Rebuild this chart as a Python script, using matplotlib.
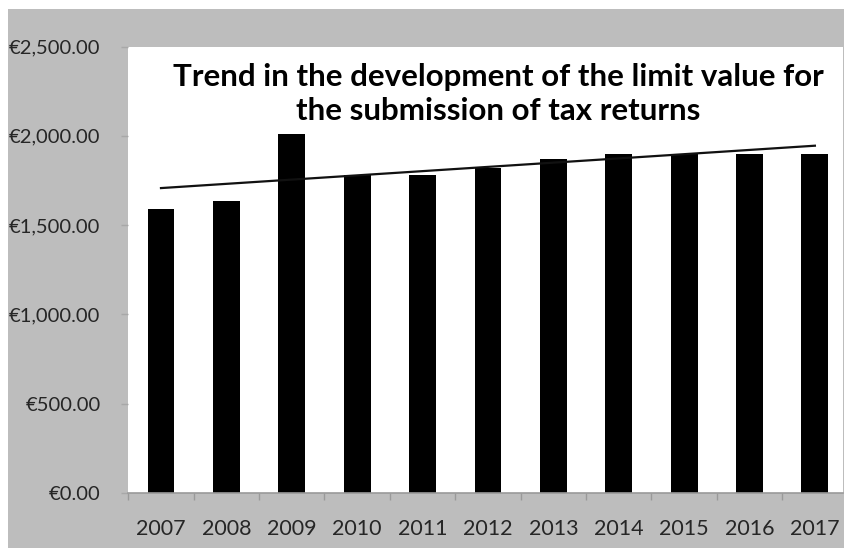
import numpy as np
import matplotlib.pyplot as plt
from matplotlib.patches import Rectangle
from matplotlib.ticker import FuncFormatter, FixedLocator

years = ['2007', '2008', '2009', '2010', '2011', '2012',
         '2013', '2014', '2015', '2016', '2017']
limit_values = [1590, 1635, 2010, 1780, 1780, 1820, 1870, 1900, 1900, 1900, 1900]
y_ticks = [0, 500, 1000, 1500, 2000, 2500]

plt.rcParams['font.family'] = ['Lato', 'DejaVu Sans']

W, H = 844, 548
fig = plt.figure(figsize=(W / 100, H / 100), dpi=100, facecolor='white')
# grey chart area with a thin white margin on top and left
fig.patches.append(Rectangle((8 / W, 0), 1, (H - 9) / H, transform=fig.transFigure,
                             facecolor='#bdbdbd', edgecolor='none', zorder=-5))

ax = fig.add_axes([128.3 / W, 55 / H, (843 - 128.3) / W, (493 - 46.5) / H])
ax.set_facecolor('white')

x = np.arange(len(years))
ax.bar(x, limit_values, width=0.41, color='black', zorder=2)

# linear trend line
k, d = np.polyfit(x, limit_values, 1)
ax.plot(x, k * x + d, color='#111111', linewidth=1.6, zorder=3)

ax.set_xlim(-0.5, 10.43)
ax.set_ylim(0, 2500)
ax.set_xticks(x)
ax.set_xticklabels(years)
ax.xaxis.set_minor_locator(FixedLocator(np.arange(-0.5, 11, 1)))
ax.tick_params(axis='x', which='major', length=0, pad=19, labelsize=15.5, labelcolor='#262626')
ax.tick_params(axis='x', which='minor', length=5, color='#9a9a9a', width=1)
ax.set_yticks(y_ticks)
ax.yaxis.set_major_formatter(FuncFormatter(lambda v, p: '€{:,.2f}'.format(v)))
ax.tick_params(axis='y', length=5, color='#a8a8a8', width=1, pad=15,
               labelsize=14.5, labelcolor='#262626')

for s in ['top', 'right', 'left']:
    ax.spines[s].set_visible(False)
ax.spines['bottom'].set_color('#9a9a9a')
ax.spines['bottom'].set_linewidth(1.2)

fig.text(498 / W, 1 - 94 / H,
         'Trend in the development of the limit value for\nthe submission of tax returns',
         ha='center', va='center', fontsize=22.5, fontweight='bold',
         color='black', linespacing=1.27, zorder=5)

fig.savefig('out.png', dpi=100, facecolor='white')
